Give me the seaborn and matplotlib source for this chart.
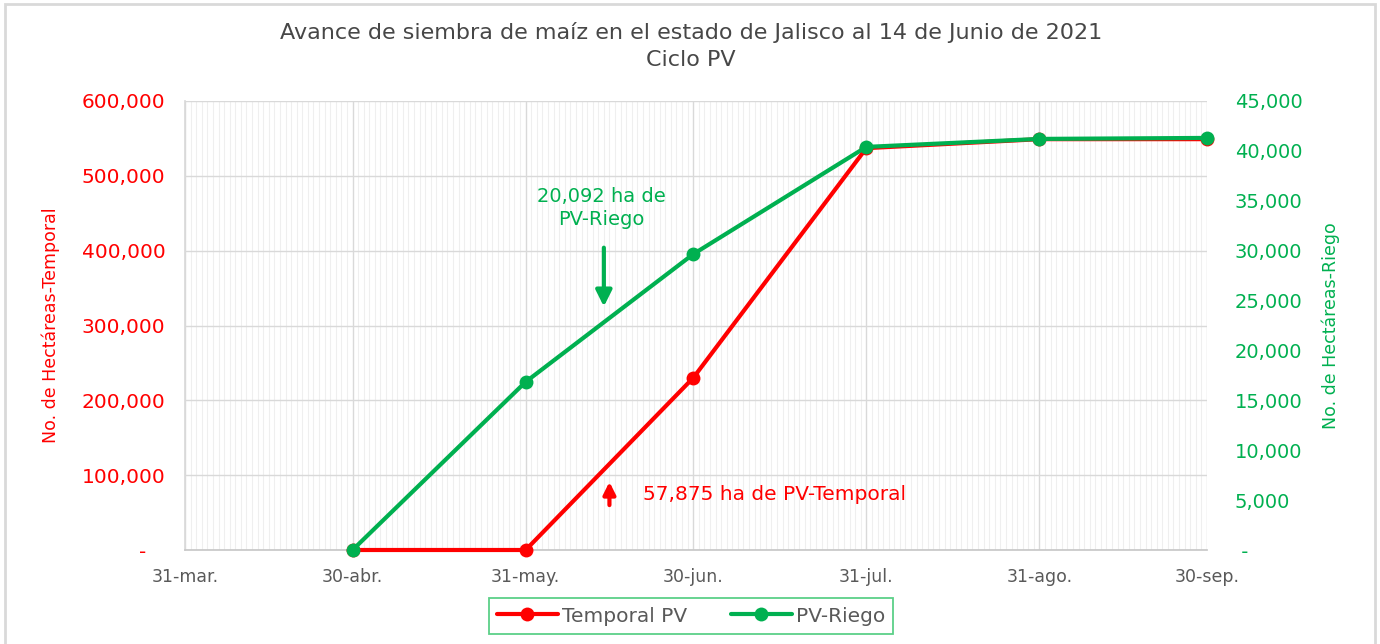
import matplotlib
matplotlib.use("Agg")
import matplotlib.pyplot as plt
import matplotlib.dates as mdates
import matplotlib.ticker as mticker
from matplotlib.patches import Rectangle
import seaborn as sns
import pandas as pd

# ---- data ----
fechas = ["2021-04-30", "2021-05-31", "2021-06-30", "2021-07-31", "2021-08-31", "2021-09-30"]
temporal_pv = [0, 0, 230000, 537000, 549000, 549000]
pv_riego = [0, 16850, 29650, 40400, 41200, 41300]
x_ticks = ["2021-03-31", "2021-04-30", "2021-05-31", "2021-06-30", "2021-07-31", "2021-08-31", "2021-09-30"]
x_labels = ["31-mar.", "30-abr.", "31-may.", "30-jun.", "31-jul.", "31-ago.", "30-sep."]
titulo = "Avance de siembra de maíz en el estado de Jalisco al 14 de Junio de 2021\nCiclo PV"
nota_riego = "20,092 ha de\nPV-Riego"
nota_temporal = "57,875 ha de PV-Temporal"

RED = "#FF0000"
GREEN = "#00B050"
GRAY_TXT = "#595959"
GRID = "#D9D9D9"
MINOR = "#EFEFEF"

sns.set_theme(style="white")
plt.rcParams["font.family"] = ["DejaVu Sans"]

df = pd.DataFrame({"fecha": pd.to_datetime(fechas), "temporal": temporal_pv, "riego": pv_riego})

fig = plt.figure(figsize=(13.8, 6.44), dpi=100)
ax = fig.add_axes([185/1380, 1-550/644, (1207-185)/1380, (550-101)/644])
ax2 = ax.twinx()

sns.lineplot(data=df, x="fecha", y="temporal", ax=ax, color=RED, lw=3, marker="o",
             markersize=10, markeredgewidth=0, label="Temporal PV", zorder=5, clip_on=False)
sns.lineplot(data=df, x="fecha", y="riego", ax=ax2, color=GREEN, lw=3, marker="o",
             markersize=10, markeredgewidth=0, label="PV-Riego", zorder=6, clip_on=False)
for a in (ax, ax2):
    if a.get_legend() is not None:
        a.get_legend().remove()

xt = pd.to_datetime(x_ticks)
ax.set_xlim(xt[0], xt[-1])
ax.set_ylim(0, 600000)
ax2.set_ylim(0, 45000)

ax.xaxis.set_major_locator(mticker.FixedLocator(mdates.date2num(xt)))
ax.xaxis.set_major_formatter(mticker.FixedFormatter(x_labels))
ax.xaxis.set_minor_locator(mdates.DayLocator())
ax.yaxis.set_major_locator(mticker.MultipleLocator(100000))
ax2.yaxis.set_major_locator(mticker.MultipleLocator(5000))

def fmt(v, pos):
    return "-   " if abs(v) < 1e-9 else f"{v:,.0f}"
ax.yaxis.set_major_formatter(mticker.FuncFormatter(fmt))
def fmt2(v, pos):
    return " -" if abs(v) < 1e-9 else f"{v:,.0f}"
ax2.yaxis.set_major_formatter(mticker.FuncFormatter(fmt2))

ax.grid(True, which="major", axis="both", color=GRID, lw=1)
ax.grid(True, which="minor", axis="x", color=MINOR, lw=0.8)
ax.set_axisbelow(True)

for s in ["top", "right"]:
    ax.spines[s].set_visible(False)
for s in ["top", "right", "left", "bottom"]:
    ax2.spines[s].set_visible(False)
ax.spines["left"].set_color(GRID)
ax.spines["bottom"].set_color("#C8C8C8")

ax.tick_params(axis="x", which="major", length=4, color="#C8C8C8", labelsize=12.5,
               labelcolor=GRAY_TXT, pad=9)
ax.tick_params(axis="x", which="minor", length=0)
ax.tick_params(axis="y", length=0, labelsize=14.5, labelcolor=RED, pad=14)
ax2.tick_params(axis="y", length=0, labelsize=14, labelcolor=GREEN, pad=20)

ax.set_xlabel("")
ax.set_ylabel("No. de Hectáreas-Temporal", color=RED, fontsize=12.5, labelpad=16)
ax2.set_ylabel("No. de Hectáreas-Riego", color=GREEN, fontsize=12.5, labelpad=14)

fig.text(691/1380, 1-46/644, titulo, ha="center", va="center", fontsize=16,
         color="#474747", linespacing=1.45)

# annotations
d_riego = pd.Timestamp("2021-06-14")
ax2.annotate("", xy=(d_riego, 24400), xytext=(d_riego, 30300),
             arrowprops=dict(arrowstyle="-|>", color=GREEN, lw=3, mutation_scale=24,
                             shrinkA=0, shrinkB=0))
ax2.text(pd.Timestamp("2021-06-13 12:00"), 34300, nota_riego, ha="center", va="center",
         color=GREEN, fontsize=14, linespacing=1.25)
d_temp = pd.Timestamp("2021-06-15")
ax.annotate("", xy=(d_temp, 91000), xytext=(d_temp, 60000),
            arrowprops=dict(arrowstyle="-|>", color=RED, lw=3, mutation_scale=18,
                            shrinkA=0, shrinkB=0))
ax.text(pd.Timestamp("2021-06-21"), 74800, nota_temporal, ha="left", va="center",
        color=RED, fontsize=14.5)

h1, l1 = ax.get_legend_handles_labels()
h2, l2 = ax2.get_legend_handles_labels()
leg = fig.legend(h1 + h2, l1 + l2, loc="center", bbox_to_anchor=(691/1380, 1-616/644),
                 ncol=2, fontsize=14.5, frameon=True, fancybox=False, handlelength=3.0,
                 handletextpad=0.2, columnspacing=2.2, borderpad=0.4, borderaxespad=0)
leg.get_frame().set_edgecolor("#33C46A")
leg.get_frame().set_linewidth(1.3)
for t in leg.get_texts():
    t.set_color(GRAY_TXT)

fig.patches.append(Rectangle((5/1380, -0.02), 1370/1380, 1.0 + 0.02 - 4/644,
                             transform=fig.transFigure, fill=False,
                             edgecolor=GRID, lw=2))

fig.savefig("out.png", dpi=100)
